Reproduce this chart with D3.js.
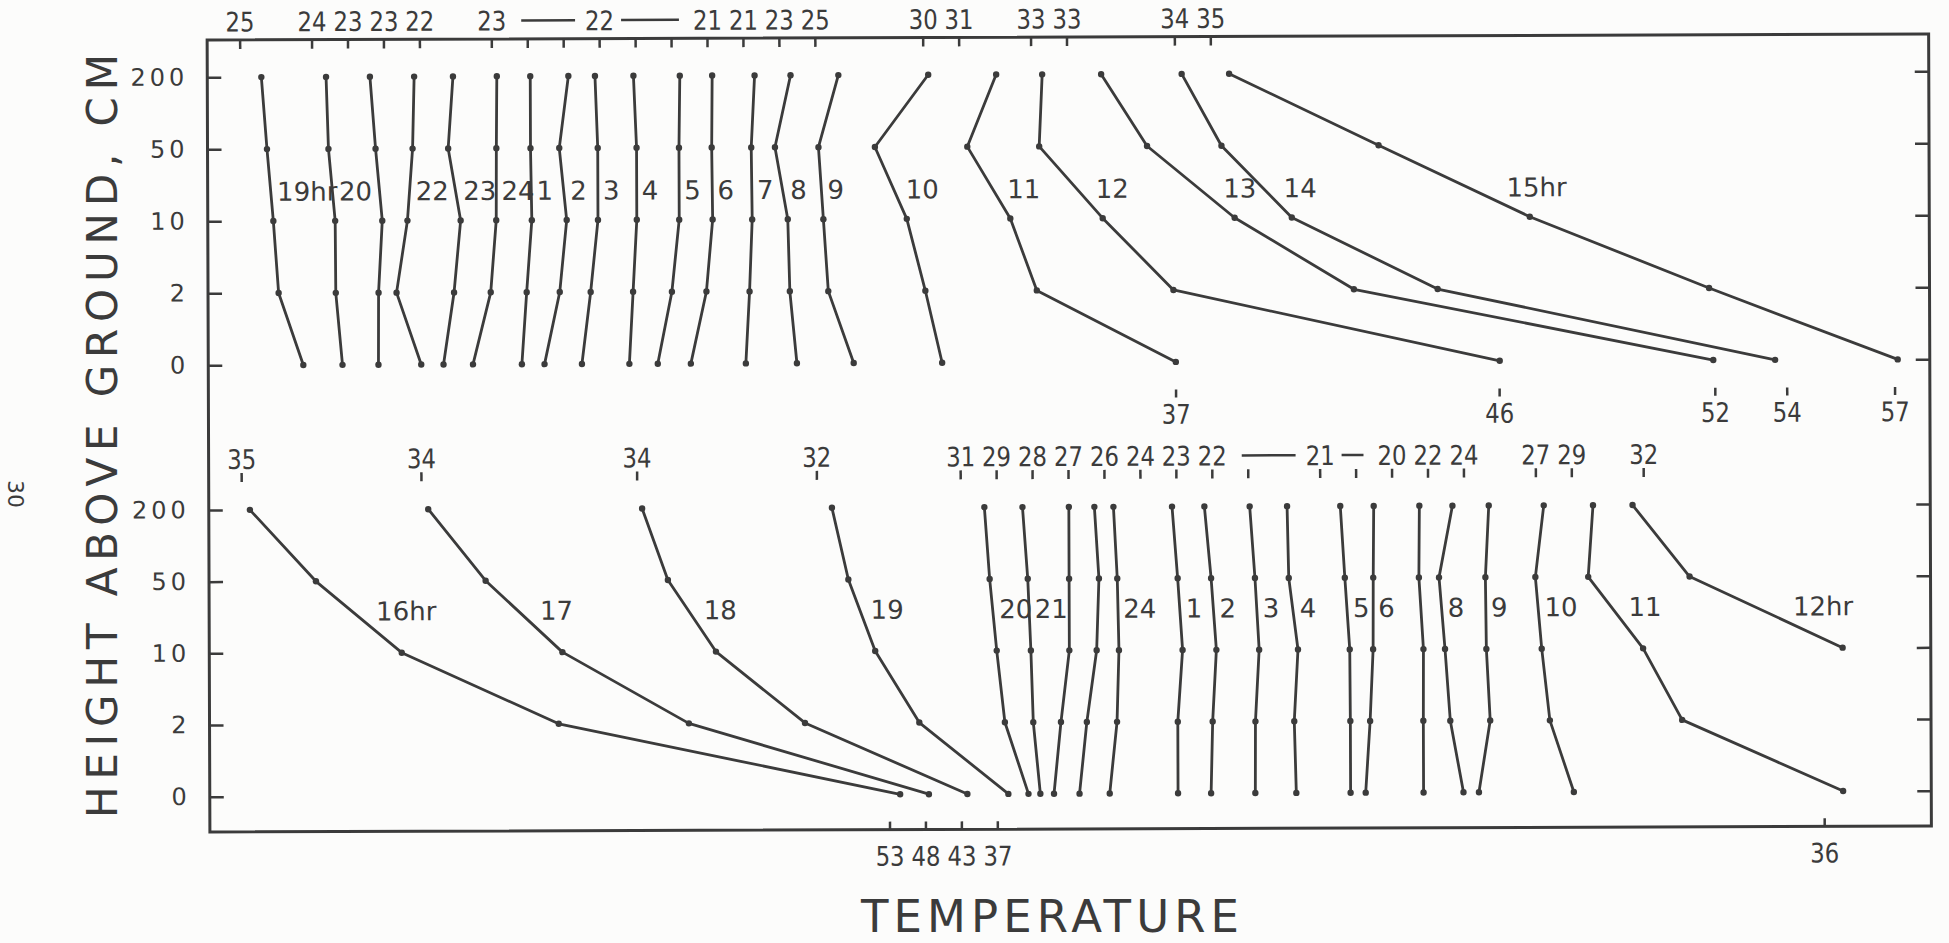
<!DOCTYPE html>
<html>
<head>
<meta charset="utf-8">
<script src="https://cdn.jsdelivr.net/npm/d3@7"></script>
<style>
  body { margin: 0; background: #fcfcfb; }
  text { font-family: "DejaVu Sans", sans-serif; fill: #3b3b3b; }
</style>
</head>
<body>
<svg id="chart" width="1949" height="943"></svg>
<script>
// heights of the thermometers, cm
const heights = ["0", "2", "10", "50", "200"];

// upper panel: 19 hr through 15 hr next day
const topHours = ["19hr", "20", "", "22", "23", "24", "1", "2", "3", "4", "5", "6", "7", "8", "9", "10", "11", "12", "13", "14", "15hr"];
// each profile is slid left by this many degrees so the curves do not overlap
const topShift = [25, 22, 20, 19, 17, 16, 14, 13, 12, 11, 10, 8, 7, 8, 9, 11, 11, 11, 10, 8, 8];
// temperature at 0, 2, 10, 50, 200 cm
const topTemps = [
  [26.74, 26.06, 25.92, 25.75, 25.60],
  [24.83, 24.65, 24.64, 24.46, 24.40],
  [23.83, 23.84, 23.95, 23.77, 23.62],
  [24.02, 23.34, 23.65, 23.80, 23.85],
  [22.64, 22.94, 23.13, 22.79, 22.93],
  [22.46, 22.96, 23.12, 23.13, 23.15],
  [21.82, 21.96, 22.11, 22.08, 22.08],
  [21.45, 21.88, 22.08, 21.88, 22.14],
  [21.49, 21.74, 21.95, 21.95, 21.88],
  [21.81, 21.92, 22.03, 22.03, 21.95],
  [21.60, 22.00, 22.21, 22.21, 22.24],
  [20.52, 20.96, 21.14, 21.12, 21.14],
  [21.05, 21.16, 21.24, 21.22, 21.32],
  [23.47, 23.28, 23.23, 22.88, 23.32],
  [26.05, 25.35, 25.22, 25.09, 25.65],
  [30.51, 30.05, 29.54, 28.66, 30.15],
  [37.01, 33.15, 32.42, 31.23, 32.04],
  [46.02, 36.95, 34.99, 33.23, 33.32],
  [50.96, 40.97, 37.66, 35.23, 33.96],
  [50.68, 41.30, 37.25, 35.30, 34.20],
  [54.09, 48.85, 43.87, 39.67, 35.52]
];
const topTickSlots = [0, 2, 3, 4, 5, 7, 8, 9, 10, 11, 12, 13, 14, 15, 16, 19, 20, 22, 23, 26, 27];
const topTickText = ["25", "24", "23", "23", "22", "23", "", "", "22", "", "", "21", "21", "23", "25", "30", "31", "33", "33", "34", "35"];
const topDashes = [{from: 7, at: 10, to: 13}];
const topFootSlots = [26, 35, 41, 43, 46];
const topFootText = ["37", "46", "52", "54", "57"];

// lower panel: 16 hr through 12 hr next day
const botHours = ["16hr", "17", "18", "19", "20", "21", "", "", "24", "1", "2", "3", "4", "5", "6", "", "8", "9", "10", "11", "12hr"];
const botShift = [35, 29, 23, 16, 11, 8, 6, 4, 2, -1, -3, -5, -7, -9, -10, -12, -11, -10, -9, -8, -7];
const botTemps = [
  [53.30, 43.81, 39.45, 37.07, 35.24],
  [48.10, 41.43, 37.92, 35.79, 34.20],
  [43.17, 38.66, 36.19, 34.86, 34.15],
  [37.31, 34.84, 33.62, 32.88, 32.43],
  [32.87, 32.22, 32.00, 31.81, 31.67],
  [30.20, 30.01, 29.95, 29.87, 29.73],
  [28.58, 28.78, 29.02, 29.02, 29.02],
  [27.29, 27.50, 27.78, 27.85, 27.73],
  [26.13, 26.34, 26.40, 26.36, 26.26],
  [25.03, 25.03, 25.17, 25.04, 24.89],
  [23.95, 24.00, 24.11, 23.97, 23.79],
  [23.18, 23.19, 23.30, 23.19, 23.05],
  [22.32, 22.27, 22.38, 22.13, 22.09],
  [21.83, 21.83, 21.82, 21.69, 21.57],
  [21.25, 21.38, 21.47, 21.48, 21.50],
  [20.86, 20.86, 20.87, 20.75, 20.77],
  [22.97, 22.61, 22.47, 22.31, 22.69],
  [24.40, 24.72, 24.62, 24.60, 24.70],
  [28.04, 27.38, 27.16, 26.99, 27.23],
  [36.53, 32.06, 30.98, 29.46, 29.60],
  [null, null, 37.53, 33.28, 31.70]
];
const botTickSlots = [0, 5, 11, 16, 20, 21, 22, 23, 24, 25, 26, 27, 28, 30, 31, 32, 33, 34, 36, 37, 39];
const botTickText = ["35", "34", "34", "32", "31", "29", "28", "27", "26", "24", "23", "22", "", "21", "", "20", "22", "24", "27", "29", "32"];
const botDashes = [{from: 27, at: 30, to: 32}];
const botFootSlots = [18, 19, 20, 21, 44];
const botFootText = ["53", "48", "43", "37", "36"];

const ink = "#3b3b3b";
const frame = {left: 208.5, right: 1930, top: 40, bottom: 832};

const svg = d3.select("#chart");
// the printed figure sits a little askew on the page
const g = svg.append("g").attr("transform", "rotate(-0.2, 208, 430)");

// one degree of (shifted) temperature per tick slot
const x = d3.scaleLinear().domain([0, 46]).range([241, 1894.7]);
const yTop = d3.scalePoint().domain(heights).range([365.3, 77.3]);
const yBot = d3.scalePoint().domain(heights).range([796.7, 510]);

g.append("rect")
    .attr("x", frame.left).attr("y", frame.top)
    .attr("width", frame.right - frame.left).attr("height", frame.bottom - frame.top)
    .attr("fill", "none").attr("stroke", ink).attr("stroke-width", 3);

function styleAxis(sel, size) {
    sel.attr("color", ink).attr("font-family", null).attr("font-size", null);
    sel.select(".domain").remove();
    sel.selectAll(".tick line").attr("stroke-width", 2.5);
    sel.selectAll(".tick text").style("font-size", size + "px");
}

// the lettering guide used narrow, tall digits
function narrowDigits(sel) {
    sel.selectAll(".tick text")
        .filter(function() { return this.textContent.length > 0; })
        .attr("textLength", function() { return 14.5 * this.textContent.length; })
        .attr("lengthAdjust", "spacingAndGlyphs");
}

function drawPanel(p) {
    const y = p.y;

    // height ticks on both sides, pointing inward
    g.append("g").attr("transform", `translate(${frame.left},0)`)
        .call(d3.axisLeft(y).tickSize(-14).tickPadding(19))
        .call(a => styleAxis(a, 24))
        .call(a => a.selectAll(".tick text").style("letter-spacing", "4px"));
    g.append("g").attr("transform", `translate(${frame.right},0)`)
        .call(d3.axisRight(y).tickSize(-14).tickFormat(""))
        .call(a => styleAxis(a, 24));

    // temperature at 200 cm for each hour
    g.append("g").attr("transform", `translate(0,${p.headY})`)
        .call(d3.axisTop(x).tickValues(p.tickSlots).tickSize(p.headTick).tickPadding(p.headPad)
            .tickFormat((d, i) => p.tickText[i]))
        .call(a => styleAxis(a, 27))
        .call(narrowDigits);

    const dashY = p.headY - (Math.max(p.headTick, 0) + p.headPad) - 10;
    p.dashes.forEach(d => {
        [[x(d.from) + 30, x(d.at) - 24], [x(d.at) + 22, x(d.to) - 28]].forEach(seg => {
            g.append("line")
                .attr("x1", seg[0]).attr("x2", seg[1])
                .attr("y1", dashY).attr("y2", dashY)
                .attr("stroke", ink).attr("stroke-width", 2.5);
        });
    });

    // ground temperature marks
    g.append("g").attr("transform", `translate(0,${p.footY})`)
        .call(d3.axisBottom(x).tickValues(p.footSlots).tickSize(p.footTick).tickPadding(p.footPad)
            .tickFormat((d, i) => p.footText[i]))
        .call(a => styleAxis(a, 27))
        .call(narrowDigits);

    const line = d3.line()
        .defined(d => d.t !== null)
        .x(d => x(d.t - d.shift))
        .y(d => y(d.h));

    const profiles = p.temps.map((temps, i) => ({
        name: p.hours[i],
        shift: p.shift[i],
        pts: temps.map((t, j) => ({t: t, h: heights[j], shift: p.shift[i]}))
    }));

    const prof = g.append("g").selectAll("g.profile")
        .data(profiles)
        .join("g").attr("class", "profile");

    prof.append("path")
        .attr("d", d => line(d.pts))
        .attr("fill", "none")
        .attr("stroke", ink)
        .attr("stroke-width", 2.8)
        .attr("stroke-linejoin", "round");

    prof.selectAll("circle")
        .data(d => d.pts.filter(q => q.t !== null))
        .join("circle")
        .attr("cx", d => x(d.t - d.shift))
        .attr("cy", d => y(d.h))
        .attr("r", 3.2)
        .attr("fill", ink);

    // hour names sit just right of each curve, between 50 and 10 cm
    prof.filter(d => d.name !== "")
        .append("text")
        .attr("x", d => {
            const x50 = x(d.pts[3].t - d.shift);
            const x10 = x(d.pts[2].t - d.shift);
            const f = (p.labelY - 9 - y("50")) / (y("10") - y("50"));
            return x50 + f * (x10 - x50) + 5 + 0.22 * Math.abs(x10 - x50);
        })
        .attr("y", p.labelY)
        .style("font-size", "26px")
        .text(d => d.name);
}

drawPanel({
    y: yTop, hours: topHours, shift: topShift, temps: topTemps,
    tickSlots: topTickSlots, tickText: topTickText, dashes: topDashes,
    headY: frame.top, headTick: -9, headPad: 8.5,
    footSlots: topFootSlots, footText: topFootText,
    footY: 393, footTick: 8, footPad: 7,
    labelY: 201
});

drawPanel({
    y: yBot, hours: botHours, shift: botShift, temps: botTemps,
    tickSlots: botTickSlots, tickText: botTickText, dashes: botDashes,
    headY: 482, headTick: 9, headPad: 4,
    footSlots: botFootSlots, footText: botFootText,
    footY: frame.bottom, footTick: -8, footPad: 17,
    labelY: 621
});

// titles
svg.append("text")
    .attr("transform", "translate(117,436) rotate(-90)")
    .attr("text-anchor", "middle")
    .attr("textLength", 764).attr("lengthAdjust", "spacing")
    .style("font-size", "42px")
    .text("HEIGHT ABOVE GROUND, CM");

svg.append("text")
    .attr("x", 1050).attr("y", 932)
    .attr("text-anchor", "middle")
    .attr("textLength", 378).attr("lengthAdjust", "spacing")
    .style("font-size", "45px")
    .text("TEMPERATURE");

// page number printed sideways in the margin
svg.append("text")
    .attr("transform", "translate(8,494) rotate(90)")
    .attr("text-anchor", "middle")
    .style("font-size", "22px")
    .text("30");
</script>
</body>
</html>
